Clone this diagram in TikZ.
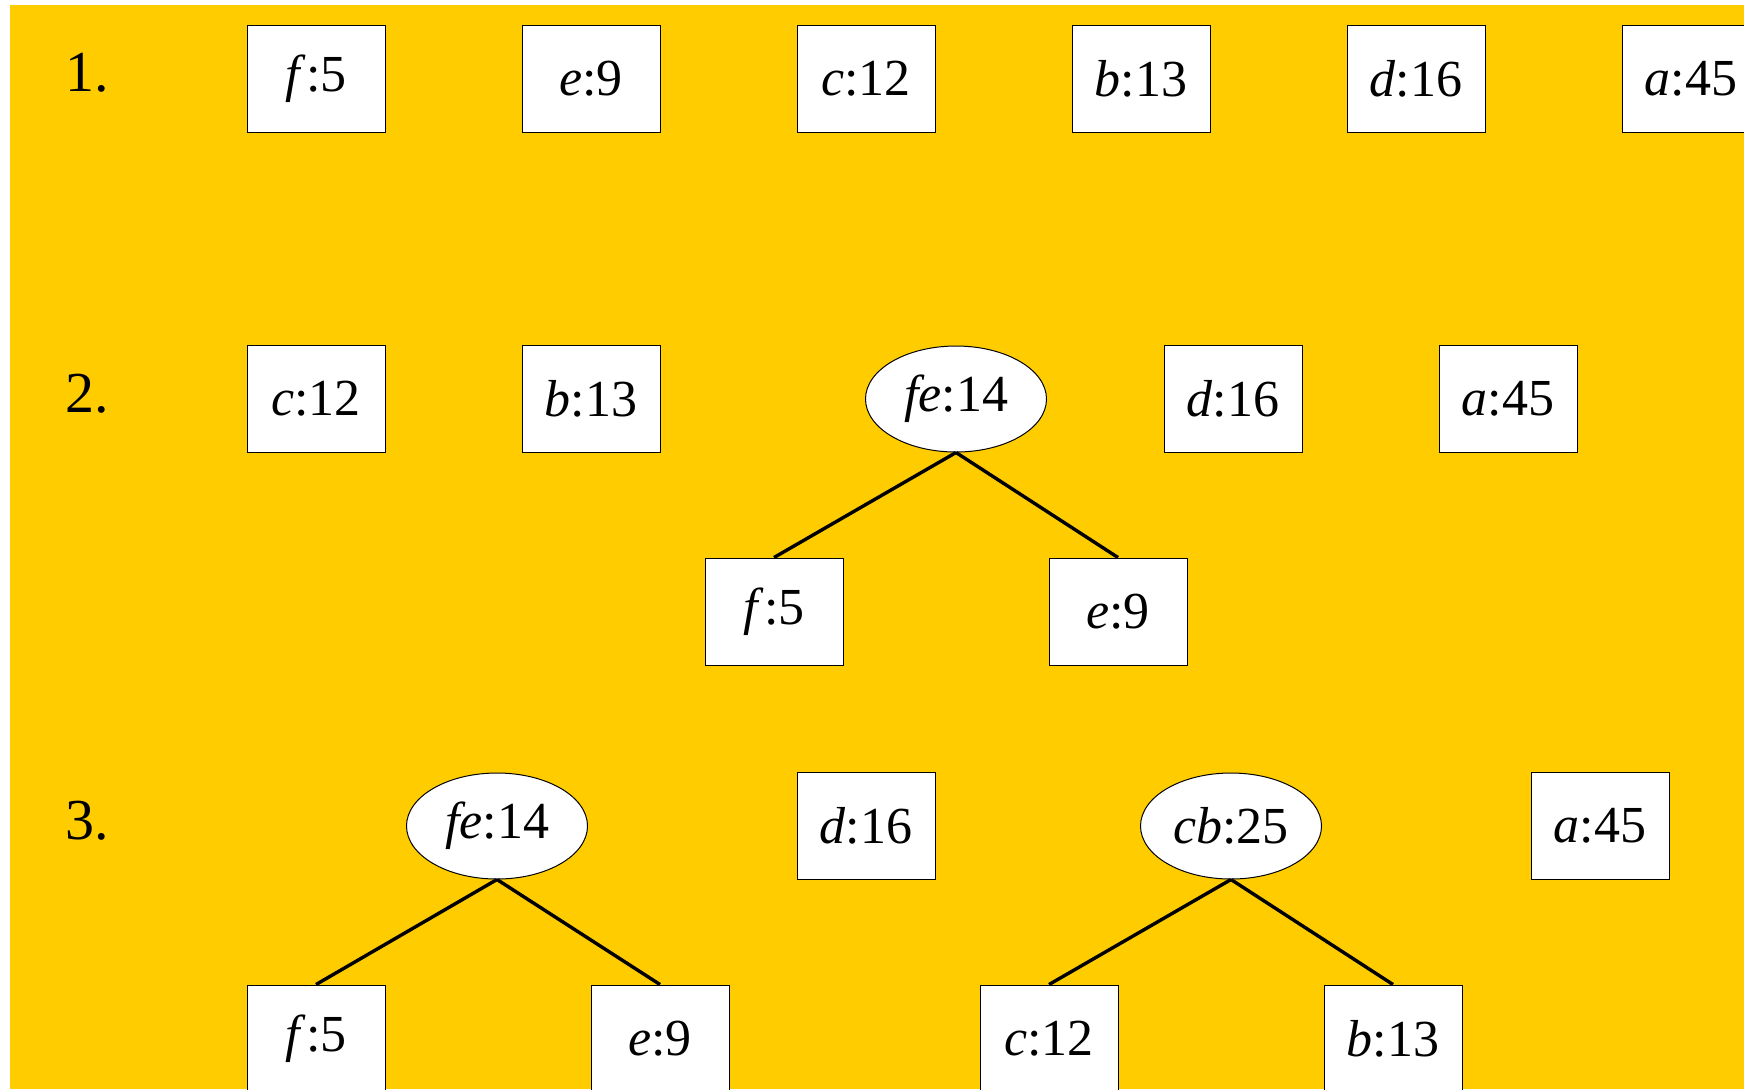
\documentclass[tikz,border=0pt]{standalone}
\usepackage{fontspec}
\setmainfont{Liberation Serif}
\usetikzlibrary{positioning,shapes.geometric}
\definecolor{slideyellow}{RGB}{255,204,0}

\begin{document}
\begin{tikzpicture}[x=0.5pt, y=-0.5pt, node distance=137.5pt,
	box/.style = {draw, fill=white, line width=0.5pt, minimum width=69pt, minimum height=53.5pt, inner sep=0pt, font=\fontsize{26}{30}\selectfont},
	oval/.style = {draw, ellipse, fill=white, line width=0.5pt, minimum width=90.5pt, minimum height=53pt, inner sep=0pt, font=\fontsize{26}{30}\selectfont},
	step label/.style = {font=\fontsize{29}{34}\selectfont},
	edge/.style = {line width=1.7pt}]
			\useasboundingbox (0,0) rectangle (1744,1089);
			\fill[white] (0,0) rectangle (1744,1089);
			\fill[slideyellow] (10,5) rectangle (1744,1089);
			
			\node[step label] (s1) at (87,73) {1.};
			\node[box] (f1) at (316,78.5) {\textit{f}:5};
			\node[box, right of=f1] (e1) {\textit{e}:9};
			\node[box, right of=e1] (c1) {\textit{c}:12};
			\node[box, right of=c1] (b1) {\textit{b}:13};
			\node[box, right of=b1] (d1) {\textit{d}:16};
			\node[box, right of=d1] (a1) {\textit{a}:45};
			
			\node[step label] (s2) at (87,394) {2.};
			\node[box] (c2) at (316,399) {\textit{c}:12};
			\node[box, right of=c2] (b2) {\textit{b}:13};
			\node[oval] (fe2) at (956,399) {\textit{fe}:14};
			\node[box] (d2) at (1233,399) {\textit{d}:16};
			\node[box, right of=d2] (a2) {\textit{a}:45};
			\node[box] (f2) at (774,611.5) {\textit{f}:5};
			\node[box] (e2) at (1118,611.5) {\textit{e}:9};
			\draw[edge] (fe2.south)--(f2.north);
			\draw[edge] (fe2.south)--(e2.north);
			
			\node[step label] (s3) at (87,821) {3.};
			\node[oval] (fe3) at (497,826) {\textit{fe}:14};
			\node[box] (d3) at (866,826) {\textit{d}:16};
			\node[oval] (cb3) at (1231,826) {\textit{cb}:25};
			\node[box] (a3) at (1600,826) {\textit{a}:45};
			\node[box] (f3) at (316,1038.5) {\textit{f}:5};
			\node[box] (e3) at (660,1038.5) {\textit{e}:9};
			\node[box] (c3) at (1049,1038.5) {\textit{c}:12};
			\node[box] (b3) at (1393,1038.5) {\textit{b}:13};
			\draw[edge] (fe3.south)--(f3.north);
			\draw[edge] (fe3.south)--(e3.north);
			\draw[edge] (cb3.south)--(c3.north);
			\draw[edge] (cb3.south)--(b3.north);
			
\end{tikzpicture}
\end{document}
